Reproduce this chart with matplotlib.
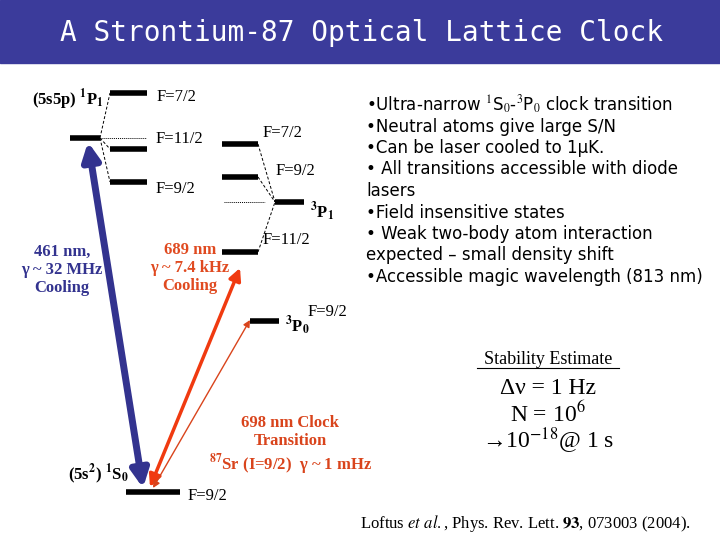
import matplotlib
matplotlib.use("Agg")
import matplotlib.pyplot as plt
from matplotlib.patches import FancyArrowPatch, Rectangle
plt.rcParams['mathtext.fontset'] = 'stix'

# Energy levels: (x0, x1, y)
levels = [(110,147,93),(110,147,149),(110,147,182),(70,100,138),
          (222,258,144),(222,258,177),(222,258,252),(275,304,202),
          (250,279,321),(126,180,492)]
dashed = [((100,138),(110,93)),((100,138),(110,149)),((100,138),(110,182)),
          ((258,144),(275,202)),((258,177),(275,202)),((258,252),(275,202))]
dotted = [((100,138),(146,138)),((224,202),(265,202))]
bullets = ["\u2022Ultra-narrow $^1$S$_0$-$^3$P$_0$ clock transition",
           "\u2022Neutral atoms give large S/N",
           "\u2022Can be laser cooled to 1\u03bcK.",
           "\u2022 All transitions accessible with diode",
           "lasers",
           "\u2022Field insensitive states",
           "\u2022 Weak two-body atom interaction",
           "expected \u2013 small density shift",
           "\u2022Accessible magic wavelength (813 nm)"]

fig = plt.figure(figsize=(7.2,5.4), dpi=100)
ax = fig.add_axes([0,0,1,1])
ax.set_xlim(0,720); ax.set_ylim(540,0); ax.axis('off')
ax.add_patch(Rectangle((0,0),720,63,color='#3b3b9b'))
ax.text(362,33,"A Strontium-87 Optical Lattice Clock",color='white',fontsize=20,
        ha='center',va='center',family='DejaVu Sans Mono')

for x0,x1,y in levels:
    ax.plot([x0,x1],[y,y],color='black',lw=4,solid_capstyle='butt')
for (a,b) in dashed:
    ax.plot([a[0],b[0]],[a[1],b[1]],color='black',lw=0.7,ls=(0,(3,2)))
for (a,b) in dotted:
    ax.plot([a[0],b[0]],[a[1],b[1]],color='black',lw=0.7,ls=(0,(1,1)))

def arrow(p,q,c,lw,ms):
    ax.add_patch(FancyArrowPatch(p,q,arrowstyle='<|-|>',mutation_scale=ms,color=c,lw=lw,shrinkA=0,shrinkB=0))
arrow((88,142),(143,488),'#33338f',5,26)
arrow((150,487),(240,268),'#f03a10',2.5,18)
arrow((153,488),(250,320),'#d9441c',1,10)

serif='Liberation Serif'
ax.text(32,100,"(5s5p) $^\\mathbf{1}$P$_\\mathbf{1}$",fontsize=12,family=serif,va='center',weight='bold')
for t,x,y in [("F=7/2",157,97),("F=11/2",156,139),("F=9/2",156,189),
              ("F=7/2",263,133),("F=9/2",276,171),("F=11/2",263,240),("F=9/2",308,312),("F=9/2",188,496)]:
    ax.text(x,y,t,fontsize=12,family=serif,va='center')
ax.text(310,212,"$^\\mathbf{3}$P$_\\mathbf{1}$",fontsize=12,family=serif,weight='bold',va='center')
ax.text(285,326,"$^\\mathbf{3}$P$_\\mathbf{0}$",fontsize=12,family=serif,weight='bold',va='center')
ax.text(68,474,"(5s$^\\mathbf{2}$) $^\\mathbf{1}$S$_\\mathbf{0}$",fontsize=12,family=serif,weight='bold',va='center')
ax.text(62,270,"461 nm,\n\u03b3 ~ 32 MHz\nCooling",color='#33338f',fontsize=12,family=serif,
        ha='center',va='center',weight='bold',linespacing=1.15)
ax.text(190,268,"689 nm\n\u03b3 ~ 7.4 kHz\nCooling",color='#e04a20',fontsize=12,family=serif,
        ha='center',va='center',weight='bold',linespacing=1.15)
ax.text(290,446,"698 nm Clock\nTransition\n$^{\\mathbf{87}}$Sr (I=9/2)  \u03b3 ~ 1 mHz",color='#d9441c',fontsize=12,family=serif,
        ha='center',va='center',weight='bold',linespacing=1.15)

for i,b in enumerate(bullets):
    ax.text(366,105+i*21.5,b,fontsize=12,va='center',family='DejaVu Sans')

ax.text(548,359,"Stability Estimate",fontsize=13,family=serif,ha='center',va='center')
ax.plot([477,619],[368,368],color='black',lw=0.8)
ax.text(548,388,"\u0394\u03bd = 1 Hz",fontsize=17,family=serif,ha='center',va='center')
ax.text(548,414,"N = 10$^6$",fontsize=17,family=serif,ha='center',va='center')
ax.text(548,441,"\u219210$^{-18}$@ 1 s",fontsize=17,family=serif,ha='center',va='center')
ax.text(360,524,"Loftus $et$ $al.$, Phys. Rev. Lett. $\\mathbf{93}$, 073003 (2004).",fontsize=12,family=serif,va='center')
fig.savefig("out.png",dpi=100)
